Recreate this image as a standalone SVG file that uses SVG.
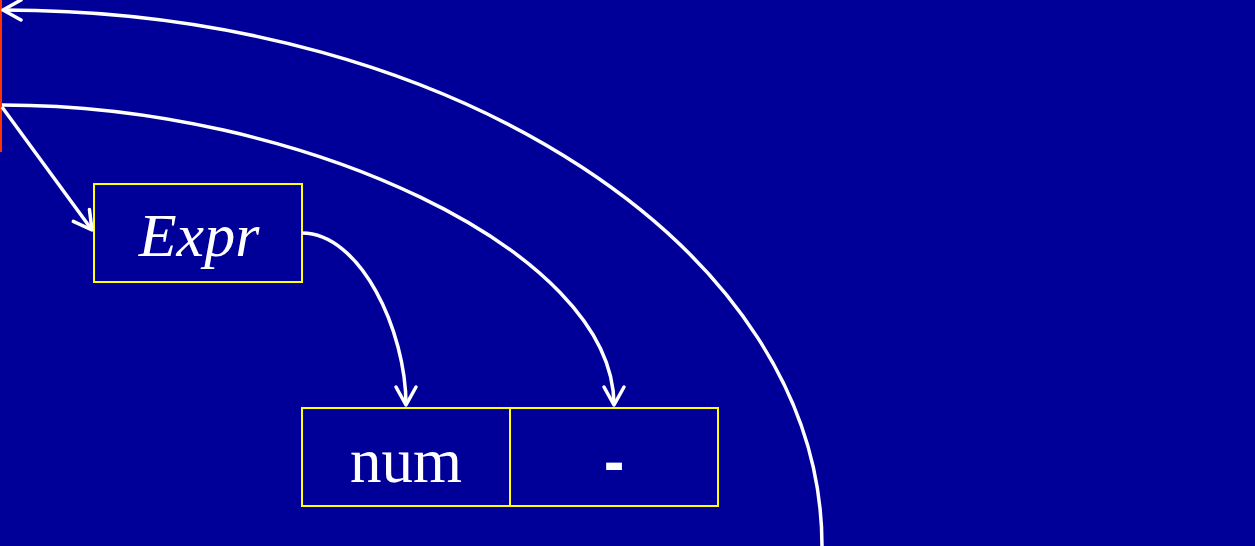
<svg xmlns="http://www.w3.org/2000/svg" width="1255" height="546" viewBox="0 0 1255 546">
<style>
.box{fill:none;stroke:#FFFF00;stroke-width:2}
.conn{fill:none;stroke:#FFFFFF;stroke-width:3.5;marker-end:url(#arr)}
.t{fill:#FFFFFF;font-family:"Liberation Serif",serif;text-anchor:middle}
.s{fill:#FFFFFF;font-family:"Liberation Sans",sans-serif;font-weight:bold;text-anchor:middle}
</style>
<defs>
<marker id="arr" markerUnits="userSpaceOnUse" markerWidth="40" markerHeight="40" viewBox="-25 -20 40 40" refX="0" refY="0" orient="auto">
<path d="M -18 -10 L 0 0 L -18 10" fill="none" stroke="#FFFFFF" stroke-width="3.5" stroke-linecap="round" stroke-linejoin="round"/>
</marker>
</defs>
<rect width="1255" height="546" fill="#000099"/>
<line x1="1" y1="0" x2="1" y2="152" stroke="#FF3300" stroke-width="2"/>
<g id="expr">
<rect class="box" x="94" y="184" width="208" height="98"/>
<text class="t" x="199" y="256" font-size="62" font-style="italic">Expr</text>
</g>
<g id="num">
<rect class="box" x="302" y="408" width="208" height="98"/>
<text class="t" x="406" y="482" font-size="63">num</text>
</g>
<g id="minus">
<rect class="box" x="510" y="408" width="208" height="98"/>
<text class="s" x="614" y="482" font-size="62">-</text>
</g>
<g id="connectors">
<path class="conn" d="M 822 546 C 822 250 454 10 3 10"/>
<path class="conn" d="M 2 105 C 300 105 614 250 614 405"/>
<path class="conn" d="M 302 233 C 360 233 406 330 406 405"/>
<path class="conn" d="M 2 107 L 92 230"/>
</g>
</svg>
